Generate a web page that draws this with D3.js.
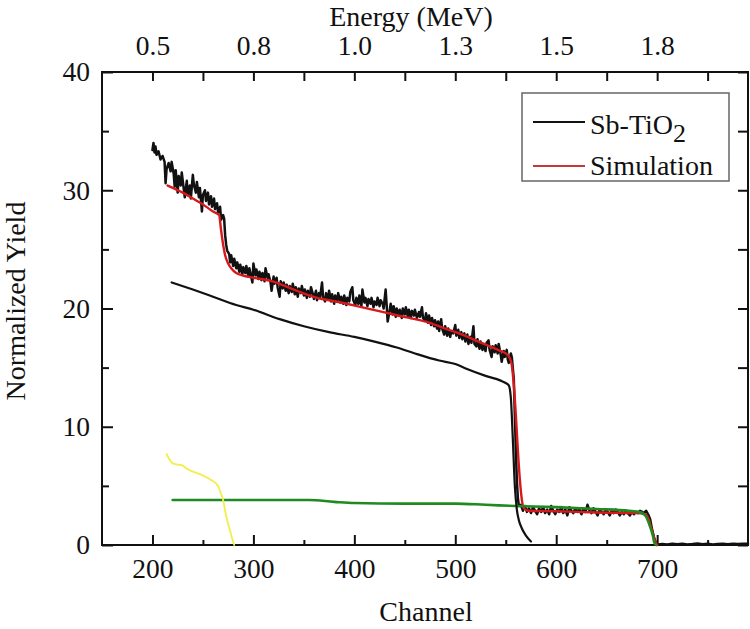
<!DOCTYPE html>
<html>
<head>
<meta charset="utf-8">
<script src="https://cdn.jsdelivr.net/npm/d3@7"></script>
<style>
  body { margin: 0; background: #fff; }
  svg { display: block; }
  svg text { font-family: 'Liberation Serif', 'DejaVu Serif', 'Times New Roman', Times, serif; fill: #111; }
</style>
</head>
<body>
<svg id="chart" width="750" height="629"></svg>
<script>
// ---------------- DATA ----------------
const bottomTickValues = [200, 300, 400, 500, 600, 700];
const minorTickValues = [250, 350, 450, 550, 650, 750];
const topTickLabels = ["0.5", "0.8", "1.0", "1.3", "1.5", "1.8"];
const yTickValues = [0, 10, 20, 30, 40];
const yMinorValues = [5, 15, 25, 35];

// Measured spectrum (Sb-TiO2): channel / normalized yield
const expChannel = [200,201,202,203,204,206,208,210,212,213,214,216,218,219,221,222,223,225,226,228,229,231,232,234,235,237,238,240,241,243,244,246,247,249,250,252,253,255,256,258,259,261,262,264,265,267,268,270,271,272,273,274,276,277,278,280,281,283,284,286,287,289,290,292,293,295,296,298,299,300,302,303,305,306,308,309,311,312,314,315,317,318,320,321,323,324,326,327,329,330,332,333,335,336,338,339,341,342,344,345,347,348,350,351,353,354,356,357,359,360,362,363,365,366,368,369,371,372,374,375,377,378,380,381,383,384,386,387,389,390,392,393,395,396,398,399,401,402,404,405,407,408,410,411,413,414,416,417,419,420,422,423,425,426,428,429,431,432,433,435,436,438,439,441,442,444,445,447,448,450,451,453,454,456,457,459,460,462,464,465,467,468,470,471,473,474,476,477,479,480,482,483,484,486,487,489,490,492,493,495,496,498,500,501,503,504,506,507,509,510,512,513,515,516,518,519,521,522,524,525,527,528,530,531,533,534,536,537,539,540,542,543,545,546,548,549,551,552,553,555,556,558,559,560,561,562,563,565,567,569,571,573,575,577,579,581,583,585,587,589,591,593,595,597,599,601,603,605,607,609,611,613,615,617,619,621,623,625,627,629,631,633,635,637,639,641,643,645,647,649,651,653,655,657,659,661,663,665,667,669,671,673,675,677,679,681,683,685,687,689,691,693,695,697,699,701,705,710,715,720,725,730,735,740,745,750,755,760,765,770,775,780,785,790];
const expYield = [33.4,34.0,33.2,33.7,33.0,33.3,32.6,32.9,32.4,30.6,31.8,32.3,31.6,32.4,31.4,30.3,31.7,29.8,31.2,30.4,31.5,30.1,29.4,30.8,29.6,30.4,29.3,31.3,30.5,29.8,30.7,29.4,30.2,28.2,29.6,30.0,29.1,29.8,28.8,29.5,28.6,29.3,28.4,28.9,28.1,28.6,27.5,27.9,27.6,26.2,25.4,24.9,24.6,23.9,24.5,23.6,24.2,23.4,23.9,23.1,23.7,22.9,23.5,23.0,23.6,22.7,23.4,22.6,22.2,23.8,22.8,23.3,22.5,23.1,22.4,23.0,22.3,23.4,22.6,22.9,22.2,21.5,22.7,22.1,22.6,21.8,21.0,22.3,21.7,22.2,21.5,22.0,21.3,21.9,21.4,22.1,21.2,21.8,21.0,21.7,21.3,21.9,21.1,21.6,20.9,21.5,21.0,21.8,21.2,20.8,21.5,20.7,21.3,20.9,22.2,21.0,20.6,21.3,20.8,21.5,20.6,21.2,20.4,21.1,20.7,21.3,20.5,21.0,20.4,21.1,20.3,20.9,20.6,21.4,21.8,20.7,20.3,20.9,20.4,21.1,20.2,21.6,20.5,20.9,20.2,20.8,20.4,20.9,20.1,20.6,20.3,20.9,20.2,20.7,20.4,20.0,21.6,20.3,18.9,19.8,20.4,19.5,20.2,19.3,20.0,19.4,19.9,19.2,20.0,19.5,20.1,19.3,19.9,19.2,19.8,19.4,19.9,19.2,19.7,19.3,20.1,19.2,19.0,19.6,18.8,19.4,18.6,19.2,18.5,19.0,18.3,18.9,18.1,19.1,18.3,17.8,18.5,17.7,18.3,17.6,18.1,17.9,18.6,17.7,18.2,17.5,18.0,17.4,17.9,17.2,17.8,17.0,17.6,17.1,18.5,17.0,16.8,17.4,16.6,17.2,16.5,17.0,16.4,17.1,17.3,16.5,15.9,16.8,16.3,16.9,16.2,17.0,16.1,15.5,16.4,15.9,16.5,15.7,15.4,16.2,15.9,14.0,11.0,8.0,5.5,4.0,3.3,3.4,2.9,3.3,2.8,3.1,2.7,3.2,2.9,2.6,3.1,2.8,3.2,2.7,3.0,2.6,3.3,2.9,2.6,3.0,2.8,3.2,2.7,3.0,2.5,3.2,2.9,2.7,3.1,2.8,3.0,2.6,3.1,2.8,3.4,2.9,2.7,3.1,2.8,2.5,3.0,2.8,2.6,3.0,2.8,2.5,2.9,2.7,3.0,2.8,2.5,2.8,2.6,2.9,2.7,2.5,2.8,2.6,2.8,2.7,2.9,2.8,2.7,2.9,2.6,2.2,1.3,0.6,0.15,0.05,0.08,0.05,0.1,0.06,0.1,0.05,0.08,0.12,0.06,0.1,0.05,0.08,0.1,0.06,0.1,0.08,0.1,0.1];

// Simulation (red)
const simChannel = [215,230,240,250,260,266,268,270,272,275,278,283,289,300,319,340,368,375,408,441,474,490,507,520,534,545,550,554,556,558,560,562,564,566,568,572,600,640,680,688,691,694,697,699,700];
const simYield =   [30.4,29.8,29.3,28.8,28.2,27.9,26.6,25.4,24.5,23.8,23.4,23.0,22.8,22.6,22.3,21.6,20.8,20.7,20.1,19.45,18.8,18.3,17.8,17.3,16.8,16.4,16.2,15.8,15.2,13.5,11.0,8.0,5.5,3.8,3.1,2.9,2.85,2.75,2.7,2.6,2.3,1.5,0.6,0.15,0];

// Black smooth component
const compAChannel = [219,240,260,283,300,326,350,375,400,420,442,460,484,500,511,530,545,550,553,555,557,559,561,563,566,570,575];
const compAYield =   [22.2,21.6,21.0,20.3,19.9,19.1,18.5,18.0,17.6,17.2,16.7,16.2,15.6,15.3,14.9,14.3,13.9,13.7,13.5,12.5,9.0,5.0,3.0,2.1,1.4,0.8,0.3];

// Green component
const compBChannel = [220,300,355,380,400,450,500,530,560,600,640,672,682,686,689,692,694,696,697,699];
const compBYield =   [3.8,3.8,3.8,3.65,3.55,3.5,3.5,3.4,3.3,3.2,3.05,2.9,2.8,2.65,2.4,1.8,1.3,0.7,0.25,0];

// Yellow component
const compCChannel = [214,217,220,225,229,235,240,247,253,258,263,266,268,270,272,274,277,279,281];
const compCYield =   [7.7,7.2,6.9,6.8,6.75,6.4,6.2,6.0,5.75,5.5,5.2,4.8,4.3,3.8,2.9,2.1,1.2,0.5,0];

// ---------------- CHART ----------------
const FONT = "'Liberation Serif', 'DejaVu Serif', 'Times New Roman', Times, serif";
const svg = d3.select("#chart");
const L = 102, R = 748, T = 72, B = 545;
const x = d3.scaleLinear().domain([150, 790]).range([L, R]);
const y = d3.scaleLinear().domain([0, 40]).range([B, T]);

const tickFont = 27.5, titleFont = 28;

function styleAxis(g) {
  g.attr("font-family", FONT);
  g.select(".domain").remove();
  g.selectAll(".tick line").attr("stroke", "#111").attr("stroke-width", 2);
  g.selectAll(".tick text").attr("font-family", FONT).style("font-size", tickFont + "px").attr("fill", "#111");
}

// bottom axis
svg.append("g").attr("transform", `translate(0,${B})`)
  .call(d3.axisBottom(x).tickValues(bottomTickValues).tickSize(-10).tickPadding(13.5).tickFormat(d3.format("d")))
  .call(styleAxis);
svg.append("g").attr("transform", `translate(0,${B})`)
  .call(d3.axisBottom(x).tickValues(minorTickValues).tickSize(-5).tickFormat(""))
  .call(styleAxis);

// top axis (energy)
svg.append("g").attr("transform", `translate(0,${T})`)
  .call(d3.axisTop(x).tickValues(bottomTickValues).tickSize(-9).tickPadding(17)
    .tickFormat((d, i) => topTickLabels[i]))
  .call(styleAxis);
svg.append("g").attr("transform", `translate(0,${T})`)
  .call(d3.axisTop(x).tickValues(minorTickValues).tickSize(-9).tickFormat(""))
  .call(styleAxis);

// left axis
svg.append("g").attr("transform", `translate(${L},0)`)
  .call(d3.axisLeft(y).tickValues(yTickValues).tickSize(-11).tickPadding(12).tickFormat(d3.format("d")))
  .call(styleAxis);
svg.append("g").attr("transform", `translate(${L},0)`)
  .call(d3.axisLeft(y).tickValues(yMinorValues).tickSize(-7).tickFormat(""))
  .call(styleAxis);

// right axis
svg.append("g").attr("transform", `translate(${R},0)`)
  .call(d3.axisRight(y).tickValues(yTickValues.concat(yMinorValues)).tickSize(-10).tickFormat(""))
  .call(styleAxis);

// frame
svg.append("rect").attr("x", L).attr("y", T).attr("width", R - L).attr("height", B - T)
  .attr("fill", "none").attr("stroke", "#111").attr("stroke-width", 2);

// lines
const plot = svg.append("g");
function drawLine(xs, ys, color, width, curve) {
  const pts = xs.map((c, i) => [c, ys[i]]);
  const line = d3.line().x(d => x(d[0])).y(d => y(d[1])).curve(curve || d3.curveLinear);
  plot.append("path").datum(pts).attr("d", line)
    .attr("fill", "none").attr("stroke", color).attr("stroke-width", width)
    .attr("stroke-linejoin", "round").attr("stroke-linecap", "round");
}
drawLine(expChannel, expYield, "#111", 2.5);
drawLine(simChannel, simYield, "#d7191c", 2.4, d3.curveMonotoneX);
drawLine(compBChannel, compBYield, "#1f8a1f", 2.6, d3.curveMonotoneX);
drawLine(compAChannel, compAYield, "#111", 2.2, d3.curveMonotoneX);
drawLine(compCChannel, compCYield, "#f2ee4a", 1.8, d3.curveMonotoneX);

// titles
function addText(sel) { return sel.append("text").attr("font-family", FONT).attr("fill", "#111"); }
addText(svg).attr("x", 411).attr("y", 26).attr("text-anchor", "middle")
  .style("font-size", titleFont + "px").text("Energy (MeV)");
addText(svg).attr("x", 426).attr("y", 621).attr("text-anchor", "middle")
  .style("font-size", titleFont + "px").text("Channel");
addText(svg).attr("transform", "translate(25,301) rotate(-90)").attr("text-anchor", "middle")
  .style("font-size", titleFont + "px").text("Normalized Yield");

// legend
const lg = svg.append("g");
lg.append("rect").attr("x", 522).attr("y", 93).attr("width", 207).attr("height", 88)
  .attr("fill", "#fff").attr("stroke", "#666").attr("stroke-width", 1.5);
lg.append("line").attr("x1", 533).attr("x2", 585).attr("y1", 122).attr("y2", 122)
  .attr("stroke", "#111").attr("stroke-width", 2);
lg.append("line").attr("x1", 533).attr("x2", 585).attr("y1", 166).attr("y2", 166)
  .attr("stroke", "#c0393b").attr("stroke-width", 2);
const t1 = addText(lg).attr("x", 590).attr("y", 134).style("font-size", "28px");
t1.append("tspan").text("Sb-TiO");
t1.append("tspan").attr("dy", 8).style("font-size", "26px").text("2");
addText(lg).attr("x", 590).attr("y", 175).style("font-size", "28px").text("Simulation");
</script>
</body>
</html>
